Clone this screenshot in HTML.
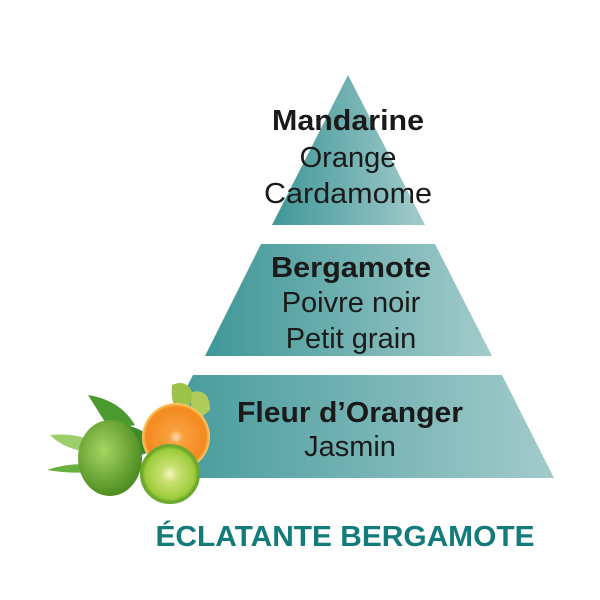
<!DOCTYPE html>
<html><head><meta charset="utf-8"><style>
html,body{margin:0;padding:0;background:#fff;width:600px;height:600px;overflow:hidden}
</style></head><body>
<svg width="600" height="600" viewBox="0 0 600 600" xmlns="http://www.w3.org/2000/svg">
<defs>
<linearGradient id="g1" x1="0" x2="1" y1="0" y2="0"><stop offset="0" stop-color="#3f9797"/><stop offset="1" stop-color="#a3cbcb"/></linearGradient>
<radialGradient id="lime" cx="0.5" cy="0.5" r="0.5"><stop offset="0" stop-color="#f4f7c0"/><stop offset="0.3" stop-color="#c8e070"/><stop offset="0.85" stop-color="#9ccc3a"/><stop offset="1" stop-color="#5c9a20"/></radialGradient>
<radialGradient id="orng" cx="0.5" cy="0.5" r="0.5"><stop offset="0" stop-color="#fde0b8"/><stop offset="0.2" stop-color="#f9a040"/><stop offset="0.88" stop-color="#f38a1e"/><stop offset="1" stop-color="#fbd070"/></radialGradient>
<radialGradient id="berg" cx="0.4" cy="0.4" r="0.6"><stop offset="0" stop-color="#a6d662"/><stop offset="1" stop-color="#4f8e22"/></radialGradient>
</defs>
<polygon points="348,75 425,225 272,225" fill="url(#g1)"/>
<polygon points="261,244 435,244 492,356 205,356" fill="url(#g1)"/>
<polygon points="193,375 502,375 554,478 140,478" fill="url(#g1)"/>
<g font-family="Liberation Sans, Arial, sans-serif" font-size="29" fill="#1a1a1a" text-anchor="middle">
<text x="348" y="130" font-weight="bold" textLength="152" lengthAdjust="spacingAndGlyphs">Mandarine</text>
<text x="348" y="167">Orange</text>
<text x="348" y="203" textLength="168" lengthAdjust="spacingAndGlyphs">Cardamome</text>
<text x="351" y="277" font-weight="bold" textLength="160" lengthAdjust="spacingAndGlyphs">Bergamote</text>
<text x="351" y="312">Poivre noir</text>
<text x="351" y="348">Petit grain</text>
<text x="350" y="422" font-weight="bold" textLength="226" lengthAdjust="spacingAndGlyphs">Fleur d’Oranger</text>
<text x="350" y="456">Jasmin</text>
</g>
<text x="345" y="546" text-anchor="middle" font-family="Liberation Sans, Arial, sans-serif" font-size="29" font-weight="bold" fill="#137b79" textLength="379" lengthAdjust="spacingAndGlyphs">ÉCLATANTE BERGAMOTE</text>
<path d="M88,395 Q120,400 135,425 L110,430 Z" fill="#4a9a30"/>
<path d="M50,435 Q80,432 100,445 L90,452 Q65,450 50,435Z" fill="#9ccf6a"/>
<path d="M47,470 Q70,462 95,465 L92,472 Q70,474 47,470Z" fill="#6ab040"/>
<path d="M172,385 Q188,378 193,395 Q190,410 180,415 Q170,405 172,385Z" fill="#9cc24a"/>
<path d="M192,392 Q210,388 210,410 Q200,420 190,418Z" fill="#b0cc5a"/>
<path d="M125,425 Q150,430 160,450 L140,455Z" fill="#3f8a28"/>
<circle cx="176" cy="437" r="34" fill="url(#orng)"/>
<ellipse cx="110" cy="458" rx="32" ry="38" fill="url(#berg)"/>
<circle cx="170" cy="474" r="29" fill="url(#lime)" stroke="#6aa830" stroke-width="2"/>
</svg>
</body></html>
